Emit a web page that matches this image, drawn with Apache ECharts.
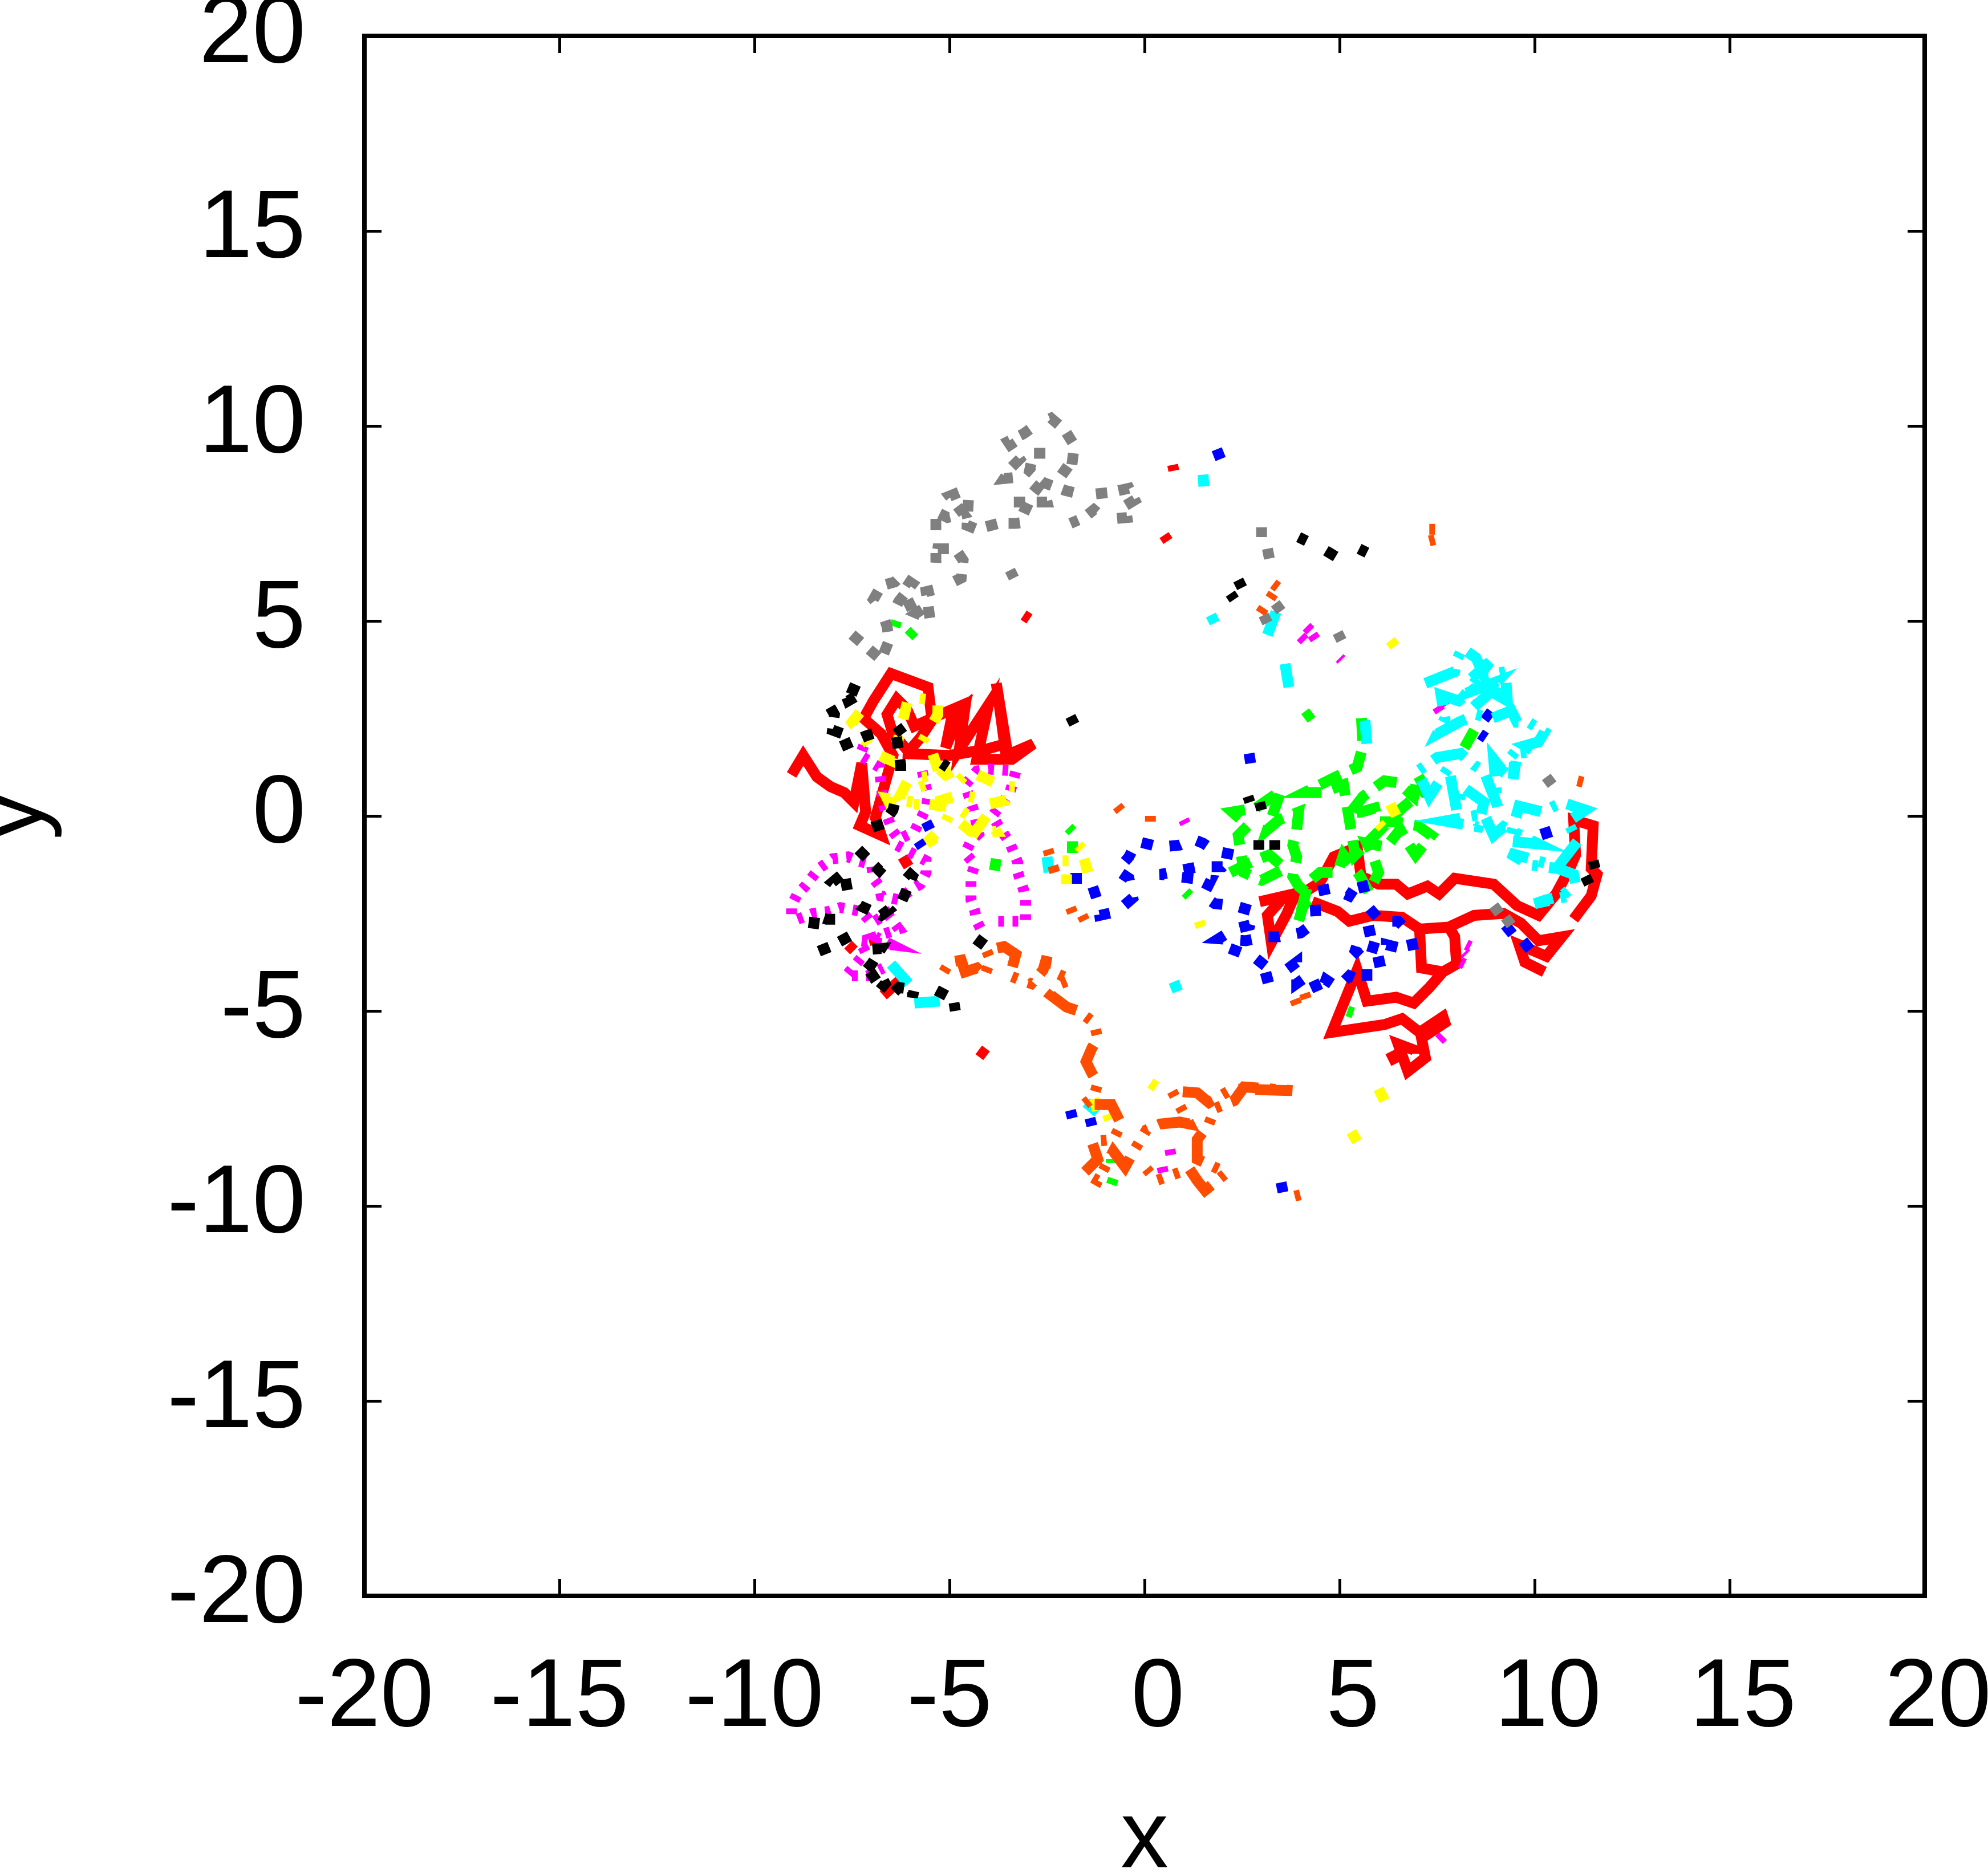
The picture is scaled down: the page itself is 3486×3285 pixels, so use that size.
<!DOCTYPE html>
<html>
<head>
<meta charset="utf-8">
<script src="https://cdn.jsdelivr.net/npm/echarts@6/dist/echarts.min.js"></script>
<style>
  html, body { margin: 0; padding: 0; background: #fff; }
  #main { width: 3486px; height: 3285px; }
</style>
</head>
<body>
<div id="main"></div>
<script>
// axis ticks
var tickValues = [-20, -15, -10, -5, 0, 5, 10, 15, 20];

// trajectories, [x, y]
var redLeft = [[-9.05,1.05],[-8.75,1.55],[-8.4,1.0],[-8.05,0.75],[-7.7,0.6],[-7.45,0.35],[-7.25,1.35],[-7.15,0.1],[-7.3,-0.25],[-6.75,-0.5],[-6.9,-0.05],[-6.45,1.55],[-6.75,2.1],[-7.2,2.5],[-6.95,2.95],[-6.5,3.65],[-5.55,3.3],[-5.45,2.45],[-5.75,2.0],[-6.05,1.65],[-6.45,2.1],[-6.6,2.6],[-6.35,3.0],[-6.1,2.75],[-5.9,2.3],[-5.35,2.55],[-4.65,2.85],[-5.1,1.75],[-4.95,2.5],[-4.6,2.8],[-4.75,1.7],[-4.0,2.85],[-4.3,1.45],[-3.4,1.45],[-2.85,1.85],[-3.55,1.55],[-3.8,3.4],[-3.55,1.85],[-4.1,1.7],[-5.0,1.55],[-6.2,1.6]];
var redRight = [[2.95,-2.2],[3.6,-2.05],[3.15,-2.55],[3.25,-3.25],[3.65,-2.5],[3.8,-2.15],[4.5,-1.7],[4.85,-1.05],[5.45,-0.8],[5.55,-1.55],[6.0,-1.75],[6.45,-1.75],[6.75,-2.0],[7.25,-1.8],[7.55,-2.0],[7.95,-1.6],[8.95,-1.75],[9.55,-2.3],[10.1,-2.55],[10.55,-2.0],[10.9,-1.35],[11.05,-1.0],[11.0,-0.1],[11.5,-0.25],[11.45,-1.35],[11.6,-1.5],[11.45,-2.05],[11.0,-2.65]];
var redMid = [[4.3,-2.2],[4.95,-2.45],[5.25,-2.7],[5.85,-2.55],[6.6,-2.6],[7.05,-2.9],[7.8,-2.85],[8.45,-2.55],[9.2,-2.5],[9.65,-2.75],[10.1,-3.2],[10.7,-3.1],[10.3,-3.6],[9.6,-3.3],[9.75,-3.75],[10.25,-4.0]];
var redLoop = [[7.8,-2.85],[7.95,-3.1],[8.0,-3.8],[7.65,-4.0],[7.1,-3.9],[7.05,-2.9]];
var redLow = [[7.65,-4.0],[7.3,-4.4],[6.9,-4.8],[6.45,-4.65],[5.7,-4.75],[5.45,-3.95],[4.8,-5.55],[6.15,-5.35],[6.6,-5.2],[7.05,-5.55],[7.65,-5.15],[7.7,-5.3],[7.1,-5.7],[7.2,-6.2],[6.75,-6.55],[6.5,-5.85],[6.9,-6.0],[6.9,-6.1]];
var redBits = [[[-3.1,5.15],[-2.95,5.05]],[[0.5,7.2],[0.6,7.05]],[[0.72,9.0],[0.75,8.85]],[[-4.25,-6.0],[-4.05,-6.15]],[[-7.6,-3.3],[-7.45,-3.45]],[[-6.95,-3.1],[-6.9,-3.3]],[[-6.2,-1.05],[-6.05,-1.3]],[[-6.7,-4.6],[-6.15,-4.1]],[[6.3,-6.05],[6.45,-6.35]]];

var greenPath = [[2.2,-1.45],[2.8,-1.15],[3.2,-1.0],[3.6,-1.35],[3.0,-1.65],[2.55,-1.45],[2.4,-0.5],[2.65,-0.25],[2.25,0.1],[2.85,0.2],[3.5,0.65],[3.15,-0.35],[3.45,-0.1],[3.95,0.1],[3.9,-0.35],[3.8,-0.75],[3.9,-1.05],[3.8,-1.55],[3.95,-1.8],[4.25,-2.05],[4.05,-2.35],[3.95,-2.7],[4.2,-1.7],[4.5,-1.45],[4.95,-1.45],[5.1,-1.0],[5.5,-1.5],[5.75,-1.95],[6.0,-1.45],[5.85,-1.0],[5.7,-0.7],[6.2,-0.8],[6.55,-0.35],[6.75,-0.7],[6.95,-1.0],[7.35,-0.5],[7.0,-0.25],[6.45,-0.15],[6.0,-0.15],[5.9,0.2],[5.55,0.1],[5.25,0.05],[5.6,0.5],[6.15,0.9],[6.5,0.85],[6.9,0.5],[7.0,1.05],[7.2,0.7],[6.6,0.2],[5.4,-1.0],[5.1,0.8],[4.55,0.6],[4.1,0.6],[4.9,1.0],[5.45,1.25],[5.6,1.8],[5.55,2.7]];
var greenBits = [[[4.1,2.5],[4.3,2.65]],[[8.2,1.75],[8.45,2.2]],[[-6.4,4.85],[-6.35,5.0]],[[-6.05,4.6],[-5.9,4.75]],[[-1.95,-0.3],[-1.85,-0.4]],[[-1.85,-0.65],[-1.85,-0.95]],[[-3.8,-1.1],[-3.85,-1.4]],[[1.05,-1.95],[1.15,-2.05]],[[-0.85,-8.8],[-0.85,-8.9]],[[-0.8,-9.3],[-0.85,-9.45]],[[5.2,-5.0],[5.35,-5.05]]];

var bluePath = [[-1.9,-1.6],[-1.4,-1.6],[-1.2,-2.2],[-1.15,-2.55],[-0.7,-2.45],[-0.3,-2.1],[-0.4,-1.6],[-0.7,-1.4],[-0.4,-1.05],[-0.2,-0.65],[0.4,-0.8],[0.9,-0.75],[1.25,-0.6],[1.5,-0.7],[1.8,-0.9],[2.3,-1.0],[2.0,-1.3],[1.4,-1.3],[0.4,-1.5],[1.2,-1.6],[1.7,-1.65],[1.5,-2.05],[1.8,-2.25],[2.3,-2.3],[2.8,-2.45],[2.7,-2.8],[2.3,-2.9],[1.9,-3.15],[2.6,-3.2],[3.1,-3.1],[3.45,-3.1],[4.0,-3.0],[4.4,-2.7],[4.35,-1.95],[4.8,-1.85],[5.25,-2.05],[5.55,-1.6],[5.75,-2.35],[6.05,-2.7],[6.5,-2.7],[6.8,-3.0],[6.9,-3.45],[6.6,-3.4],[6.2,-3.3],[6.2,-3.7],[5.75,-3.8],[5.4,-3.45],[5.55,-3.0],[6.0,-2.9],[5.7,-3.9],[5.7,-4.3],[5.25,-4.1],[4.95,-4.4],[4.65,-4.2],[4.5,-4.6],[4.25,-4.05],[3.9,-4.3],[3.9,-3.75],[3.5,-4.05],[2.95,-4.2],[3.1,-3.85],[2.85,-3.65],[1.8,-3.25]];
var blueBits = [[[1.85,9.4],[1.95,9.15]],[[2.68,1.6],[2.72,1.35]],[[8.7,2.65],[8.9,2.5]],[[8.6,2.1],[8.75,2.0]],[[10.25,-0.3],[10.35,-0.6]],[[9.25,-2.8],[9.45,-3.05]],[[9.7,-3.2],[9.9,-3.45]],[[-5.6,-0.15],[-5.5,-0.35]],[[-5.8,-0.65],[-5.7,-0.8]],[[-1.9,-7.55],[-1.85,-7.75]],[[-1.4,-7.75],[-1.35,-7.95]],[[3.5,-9.4],[3.55,-9.65]]];

var magentaTop = [[-5.7,1.15],[-5.55,0.5],[-5.6,0.2],[-5.75,-0.1],[-5.9,-0.4],[-6.3,-0.6],[-6.45,-0.4],[-6.6,0.0],[-6.7,0.3],[-6.8,1.25],[-7.3,1.55],[-7.2,1.8]];
var magentaLeft = [[-6.35,-0.75],[-5.6,-1.15],[-5.6,-1.45],[-5.75,-1.75],[-6.0,-1.9],[-6.3,-2.15],[-6.75,-2.05],[-6.8,-1.8],[-6.95,-1.6],[-7.0,-1.25],[-7.35,-1.15],[-7.6,-1.05],[-8.0,-1.1],[-8.35,-1.35],[-8.7,-1.8],[-8.9,-2.0],[-9.05,-2.3],[-9.05,-2.55],[-8.9,-2.65],[-8.5,-2.5],[-8.1,-2.45],[-7.8,-2.35],[-7.25,-2.45],[-7.0,-2.75],[-6.6,-2.5],[-6.3,-2.9],[-6.9,-3.1],[-6.5,-3.3],[-7.3,-3.2],[-7.15,-3.5],[-7.4,-3.8],[-7.65,-4.1],[-7.1,-4.1],[-6.7,-3.9]];
var magentaMid = [[-3.75,-2.7],[-3.45,-2.7],[-3.05,-2.7],[-3.05,-2.15],[-3.1,-1.9],[-3.25,-1.45],[-3.25,-1.2],[-3.45,-0.7],[-3.75,-0.25],[-3.9,0.0],[-3.45,0.6],[-3.3,1.15],[-4.0,1.2],[-4.3,1.15],[-4.6,0.8],[-4.4,0.2],[-4.25,-0.45],[-4.45,-0.65],[-4.6,-0.95],[-4.35,-1.25],[-4.45,-1.55],[-4.45,-2.15],[-4.35,-2.45],[-4.3,-2.7],[-4.15,-3.0]];
var magentaBits = [[[1.0,-0.1],[1.05,-0.2]],[[5.0,4.05],[5.05,4.0]],[[7.65,2.95],[7.75,2.8]],[[7.5,2.8],[7.6,2.65]],[[8.25,-3.3],[8.35,-3.35]],[[8.2,-3.5],[8.25,-3.55]],[[8.1,-3.75],[8.2,-3.8]],[[4.15,4.85],[4.3,4.7]],[[4.3,4.65],[4.4,4.5]],[[4.0,4.6],[4.15,4.45]],[[7.55,-5.75],[7.7,-5.6]],[[0.65,-8.55],[0.7,-8.85]],[[0.45,-9.0],[0.5,-9.25]]];

var cyanPath = [[7.2,3.4],[7.95,3.7],[8.0,4.0],[8.15,4.3],[8.5,4.05],[8.7,3.6],[9.25,3.7],[9.3,2.95],[8.35,3.5],[8.85,3.95],[8.25,3.15],[9.05,3.45],[8.45,2.8],[8.9,3.2],[8.5,3.3],[8.05,2.95],[7.6,3.1],[7.7,2.5],[7.5,2.1],[8.05,2.4],[8.5,2.6],[8.9,2.5],[9.4,2.7],[9.55,2.4],[9.85,2.4],[10.25,2.15],[10.1,1.9],[9.75,1.8],[10.0,1.65],[9.55,1.6],[9.45,0.95],[9.5,1.65],[9.15,1.2],[8.95,1.45],[9.05,0.25],[8.7,1.15],[8.45,1.3],[8.1,1.6],[7.5,1.5],[7.0,1.15],[7.3,0.5],[7.8,1.25],[8.0,0.15],[8.15,0.75],[8.7,0.35],[8.55,-0.28],[7.7,-0.13],[8.7,0.05],[8.95,-0.5],[9.2,-0.28],[10.1,-0.72],[9.35,-0.65],[9.6,0.25],[10.2,0.1],[10.7,0.35],[11.3,0.15],[10.85,-0.15],[11.1,-0.65],[10.6,-1.3],[9.35,-0.95],[9.85,-1.25],[10.6,-1.35],[11.0,-1.5],[11.05,-1.75],[10.7,-2.05],[10.3,-2.15],[10.0,-2.25],[10.9,-2.05]];
var cyanBits = [[[3.6,3.9],[3.7,3.3]],[[5.65,2.45],[5.7,1.85]],[[1.5,8.75],[1.52,8.45]],[[1.7,5.15],[1.8,4.95]],[[3.37,5.23],[3.15,4.64]],[[-2.5,-1.05],[-2.45,-1.45]],[[-6.5,-3.8],[-6.05,-4.3]],[[-5.9,-4.8],[-5.25,-4.75]],[[0.75,-4.25],[0.85,-4.5]],[[-1.5,-7.35],[-1.2,-7.6]]];

var yellowPath = [[-7.3,2.65],[-7.5,2.4],[-6.9,1.6],[-6.45,1.4],[-6.05,3.05],[-5.3,2.95],[-5.3,2.6],[-5.7,1.9],[-5.45,1.65],[-5.25,1.05],[-6.05,0.95],[-6.25,0.55],[-5.75,0.75],[-5.35,0.9],[-5.1,1.15],[-4.9,0.75],[-4.5,1.15],[-4.05,0.95],[-3.65,0.75],[-3.3,0.75],[-3.55,0.4],[-4.0,0.3],[-4.3,0.45],[-4.7,0.55],[-5.55,0.3],[-6.05,0.3],[-6.5,0.25],[-6.6,0.45],[-4.8,0.2],[-4.5,0.0],[-4.3,-0.35],[-4.05,0.0],[-3.8,-0.4],[-4.45,-0.4],[-5.0,0.05],[-5.15,-0.25],[-5.3,-0.4],[-5.5,-0.6],[-5.4,-0.75]];
var yellowBits = [[[-2.0,-1.5],[-2.0,-1.75]],[[-2.1,-1.15],[-1.95,-1.15]],[[-1.7,-0.75],[-1.6,-0.85]],[[-1.55,-1.1],[-1.45,-1.45]],[[6.3,0.3],[6.45,0.0]],[[6.0,-0.2],[6.1,-0.3]],[[1.4,-2.7],[1.45,-2.85]],[[6.3,4.5],[6.42,4.35]],[[6.0,-7.0],[6.15,-7.3]],[[5.3,-8.1],[5.45,-8.35]],[[-1.3,-7.25],[-1.2,-7.55]],[[-0.95,-7.65],[-0.9,-7.8]],[[0.15,-6.85],[0.3,-6.95]]];

var blackPath = [[-7.6,3.3],[-7.25,3.15],[-7.6,2.95],[-7.7,3.2],[-8.15,2.95],[-7.95,2.6],[-8.0,2.2],[-7.45,2.0],[-7.85,1.75],[-7.15,2.05],[-6.4,2.3],[-6.25,1.3],[-6.25,0.95],[-6.45,0.15],[-6.7,-0.2],[-7.3,-0.4],[-7.45,-0.75],[-6.8,-1.4],[-6.5,-1.05],[-5.95,-1.55],[-6.25,-2.25],[-6.75,-2.2],[-6.55,-2.4],[-6.75,-2.55],[-7.3,-2.3],[-7.6,-2.0],[-8.0,-1.7],[-7.7,-1.45],[-7.6,-2.0],[-7.85,-2.65],[-8.15,-2.65],[-8.45,-2.55],[-8.5,-2.95],[-8.55,-3.55],[-8.05,-3.35],[-7.5,-3.05],[-7.35,-3.45],[-6.75,-3.4],[-7.0,-3.8],[-7.45,-4.3],[-7.1,-4.2],[-6.8,-4.0],[-6.65,-4.3],[-6.95,-4.65],[-6.6,-4.7],[-6.3,-4.4],[-5.95,-4.45],[-5.95,-4.65],[-5.85,-4.2],[-4.9,-4.7],[-4.85,-5.0]];
var blackBits = [[[-1.9,2.55],[-1.8,2.35]],[[2.65,0.5],[2.7,0.35]],[[2.95,0.35],[3.0,0.15]],[[2.93,-0.62],[2.93,-0.87]],[[3.34,-0.62],[3.34,-0.87]],[[11.5,-1.15],[11.55,-1.35]],[[11.3,-1.55],[11.4,-1.75]],[[3.95,7.15],[4.15,7.05]],[[4.65,6.8],[4.9,6.65]],[[5.5,6.85],[5.7,6.75]],[[2.4,6.05],[2.5,5.85]],[[2.2,5.7],[2.3,5.55]],[[-4.3,-3.35],[-4.0,-2.95]],[[-5.2,1.35],[-5.05,1.25]],[[-6.35,2.3],[-6.2,2.1]]];

var orangePath = [[-5.15,-4.0],[-5.0,-3.75],[-4.7,-3.7],[-4.6,-4.0],[-4.3,-3.9],[-4.1,-4.1],[-3.95,-3.7],[-4.05,-3.45],[-3.6,-3.35],[-3.3,-3.55],[-3.45,-4.1],[-3.2,-4.2],[-2.9,-4.3],[-2.6,-3.95],[-2.5,-3.6],[-2.55,-3.9],[-1.9,-4.2],[-2.15,-4.3],[-2.4,-4.6],[-2.0,-4.9],[-1.7,-5.0],[-1.3,-5.3],[-1.2,-5.7],[-1.35,-5.95],[-1.5,-6.3],[-1.35,-6.6],[-1.2,-6.85],[-1.3,-7.2],[-1.55,-7.4],[-0.85,-7.4],[-0.6,-7.9],[-0.8,-8.3],[-1.35,-8.35],[-1.2,-8.8],[-1.55,-9.15],[-1.2,-9.35],[-0.8,-8.6],[-0.5,-9.0],[-0.25,-8.55],[0.05,-8.05],[0.4,-7.9],[0.9,-7.85],[1.15,-7.9],[0.7,-7.05],[1.35,-7.1],[1.65,-7.35],[2.25,-7.0],[3.9,-7.05],[2.55,-6.95],[2.3,-7.3],[1.8,-7.5],[1.65,-7.9],[1.35,-8.3],[1.35,-8.8],[2.1,-9.15],[1.55,-9.6],[1.35,-9.35],[1.15,-9.05],[0.3,-9.35],[0.05,-9.05]];
var orangeBits = [[[-0.7,0.25],[-0.5,0.0]],[[0.15,0.0],[0.15,-0.25]],[[-2.48,-0.86],[-2.3,-1.45]],[[-1.9,-2.35],[-1.8,-2.6]],[[-1.6,-2.55],[-1.5,-2.75]],[[3.85,-4.7],[3.95,-4.95]],[[4.1,-4.55],[4.2,-4.85]],[[11.1,0.9],[11.3,0.85]],[[7.3,7.35],[7.5,7.35]],[[7.3,7.05],[7.5,7.1]],[[3.3,5.95],[3.5,5.8]],[[3.3,5.7],[2.97,5.2]],[[3.85,-9.75],[4.05,-9.7]]];

var grayPath = [[-7.5,4.65],[-7.15,4.35],[-6.75,4.0],[-6.55,4.5],[-6.6,4.85],[-6.75,5.3],[-6.95,5.55],[-6.75,5.9],[-6.4,6.0],[-6.25,6.15],[-5.95,5.95],[-6.3,5.5],[-6.45,5.2],[-5.85,5.5],[-5.7,5.3],[-5.85,5.2],[-5.5,5.05],[-5.6,5.75],[-5.2,5.85],[-4.7,6.1],[-4.65,6.55],[-4.85,6.85],[-5.3,6.85],[-5.35,6.5],[-5.35,7.3],[-5.35,7.8],[-5.05,7.65],[-4.65,7.75],[-5.0,8.2],[-4.5,8.4],[-4.55,7.45],[-4.3,7.35],[-3.75,7.5],[-3.3,7.5],[-2.95,7.55],[-2.85,7.8],[-3.4,8.05],[-2.5,8.05],[-2.55,8.25],[-2.75,8.4],[-3.1,8.7],[-3.6,8.65],[-3.4,8.95],[-3.2,9.15],[-3.5,9.6],[-3.1,9.8],[-2.75,10.05],[-2.4,10.2],[-2.05,9.9],[-1.8,9.5],[-1.85,9.1],[-1.9,8.75],[-2.25,9.0],[-2.4,9.3],[-2.85,9.3],[-2.95,8.85],[-2.6,8.55],[-2.05,8.35],[-1.65,8.25],[-1.3,8.25],[-0.85,8.3],[-0.4,8.4],[-0.25,8.1],[-0.5,7.95],[-0.45,7.65],[-1.0,7.6],[-1.3,7.85],[-1.55,7.65],[-1.9,7.5]];
var grayBits = [[[-3.45,6.3],[-3.35,6.1]],[[3.0,7.4],[3.0,7.15]],[[3.15,6.85],[3.2,6.6]],[[3.35,5.45],[3.5,5.25]],[[3.05,5.15],[3.15,4.95]],[[4.95,4.7],[5.05,4.5]],[[10.3,1.0],[10.45,0.8]],[[8.95,-2.3],[9.1,-2.5]],[[9.25,-2.6],[9.4,-2.8]]];

var u = 10; // dash unit in px
var series = [];
function addLines(paths, color, dash) {
  paths.forEach(function (p) {
    series.push({
      type: 'line',
      data: p,
      showSymbol: false,
      symbol: 'none',
      silent: true,
      animation: false,
      lineStyle: { color: color, width: 19, type: dash || 'solid', cap: 'butt', join: 'miter', miterLimit: 6 }
    });
  });
}
addLines([redLeft, redRight, redMid, redLoop, redLow].concat(redBits), '#ff0000', null);
addLines([greenPath].concat(greenBits), '#00ff00', [4 * u, 2 * u]);
addLines([bluePath].concat(blueBits), '#0000ff', [2 * u, 3 * u]);
addLines([magentaTop, magentaLeft, magentaMid].concat(magentaBits), '#ff00ff', [1 * u, 1.5 * u]);
addLines([cyanPath].concat(cyanBits), '#00ffff', [6 * u, 2 * u, 1 * u, 2 * u]);
addLines([yellowPath].concat(yellowBits), '#ffff00', [3 * u, 3 * u, 1 * u, 3 * u]);
addLines([blackPath].concat(blackBits), '#000000', [2 * u, 2 * u, 2 * u, 6 * u]);
addLines([orangePath].concat(orangeBits), '#ff4d00', [1 * u, 2 * u, 6 * u, 2 * u, 1 * u, 2 * u]);
addLines([grayPath].concat(grayBits), '#808080', [2 * u, 2 * u, 2 * u, 2 * u, 2 * u, 2 * u, 2 * u, 4 * u]);

var fontFamily = "'Liberation Sans', Arial, sans-serif";
var tickStyle = { show: true, inside: true, length: 30, lineStyle: { color: '#000', width: 5 } };
function axisBase(extra) {
  var a = {
    type: 'value',
    min: tickValues[0],
    max: tickValues[tickValues.length - 1],
    interval: tickValues[1] - tickValues[0],
    axisLine: { show: false, onZero: false },
    axisTick: tickStyle,
    splitLine: { show: false }
  };
  for (var k in extra) a[k] = extra[k];
  return a;
}

var myChart = echarts.init(document.getElementById('main'), null, { renderer: 'canvas' });
myChart.setOption({
  animation: false,
  backgroundColor: '#fff',
  grid: { left: 639, top: 63, width: 2736, height: 2736, containLabel: false, outerBoundsMode: 'none',
    show: true, borderColor: '#000', borderWidth: 8, backgroundColor: 'transparent' },
  xAxis: [
    axisBase({
      position: 'bottom',
      name: 'x', nameLocation: 'middle', nameGap: 346,
      nameTextStyle: { fontFamily: fontFamily, fontSize: 168, color: '#000' },
      axisLabel: { margin: 98, fontFamily: fontFamily, fontSize: 168, color: '#000',
        formatter: function (v) { return v >= 0 ? ' ' + v : String(v); } }
    }),
    axisBase({ position: 'top', axisLabel: { show: false } })
  ],
  yAxis: [
    axisBase({
      position: 'left',
      name: 'y', nameLocation: 'middle', nameGap: 528,
      nameTextStyle: { fontFamily: fontFamily, fontSize: 168, color: '#000' },
      axisLabel: { margin: 103, fontFamily: fontFamily, fontSize: 168, color: '#000' }
    }),
    axisBase({ position: 'right', axisLabel: { show: false } })
  ],
  series: series
});
</script>
</body>
</html>
